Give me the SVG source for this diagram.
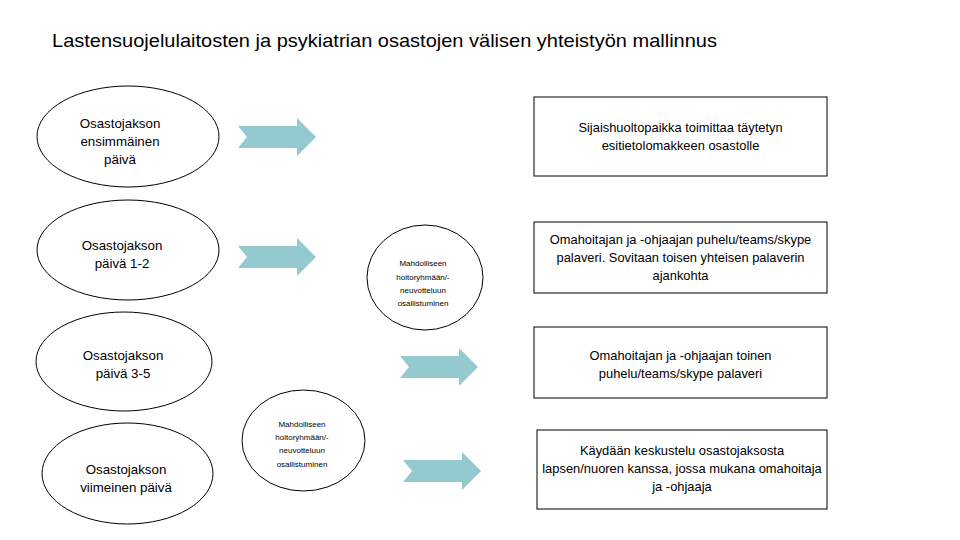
<svg xmlns="http://www.w3.org/2000/svg" xmlns:xlink="http://www.w3.org/1999/xlink" width="960" height="540" viewBox="0 0 960 540">
<style>
.shape{fill:#fff;stroke:#000;stroke-width:1}
.t{font-family:"Liberation Sans",Arial,sans-serif;fill:#000;text-anchor:middle}
.e{font-size:13.3px}
.b{font-size:12.9px}
.s{font-size:8px}
.arrow{fill:#93C9CF}
</style>
<defs>
<path id="arr" d="M0,8 L59,8 L59,0 L78,19 L59,38 L59,30 L0,30 L9,19 Z"/>
</defs>
<rect width="960" height="540" fill="#fff"/>
<text x="52" y="47" font-family="Liberation Sans,Arial,sans-serif" font-size="19" textLength="665" lengthAdjust="spacingAndGlyphs">Lastensuojelulaitosten ja psykiatrian osastojen välisen yhteistyön mallinnus</text>

<g id="connectors" class="arrow">
<use xlink:href="#arr" href="#arr" transform="translate(238,118)"/>
<use xlink:href="#arr" href="#arr" transform="translate(238,238)"/>
<use xlink:href="#arr" href="#arr" transform="translate(400,348)"/>
<use xlink:href="#arr" href="#arr" transform="translate(403,452)"/>
</g>

<g id="e1"><ellipse class="shape" cx="128" cy="136.5" rx="91" ry="50.5"/>
<text class="t e" x="120" y="128">Osastojakson</text><text class="t e" x="120" y="146">ensimmäinen</text><text class="t e" x="120" y="164">päivä</text></g>
<g id="e2"><ellipse class="shape" cx="128" cy="250" rx="91" ry="50"/>
<text class="t e" x="122" y="250">Osastojakson</text><text class="t e" x="122" y="268">päivä 1-2</text></g>
<g id="e3"><ellipse class="shape" cx="124" cy="361.5" rx="88" ry="49.5"/>
<text class="t e" x="123" y="360">Osastojakson</text><text class="t e" x="123" y="378">päivä 3-5</text></g>
<g id="e4"><ellipse class="shape" cx="127.5" cy="473.5" rx="85.5" ry="50.5"/>
<text class="t e" x="126" y="474">Osastojakson</text><text class="t e" x="126" y="492">viimeinen päivä</text></g>

<g id="c1"><ellipse class="shape" cx="425" cy="277.5" rx="58" ry="52.5"/>
<text class="t s" x="423" y="266">Mahdolliseen</text><text class="t s" x="423" y="280">hoitoryhmään/-</text><text class="t s" x="423" y="293">neuvotteluun</text><text class="t s" x="423" y="306">osallistuminen</text></g>
<g id="c2"><ellipse class="shape" cx="303.5" cy="440.5" rx="61.5" ry="50.5"/>
<text class="t s" x="302" y="427">Mahdolliseen</text><text class="t s" x="302" y="440">hoitoryhmään/-</text><text class="t s" x="302" y="453">neuvotteluun</text><text class="t s" x="302" y="467">osallistuminen</text></g>

<g id="b1"><rect class="shape" x="534" y="97" width="293" height="79"/>
<text class="t b" x="680.5" y="132">Sijaishuoltopaikka toimittaa täytetyn</text><text class="t b" x="680.5" y="150">esitietolomakkeen osastolle</text></g>
<g id="b2"><rect class="shape" x="534" y="222" width="293" height="71"/>
<text class="t b" x="680.5" y="244">Omahoitajan ja -ohjaajan puhelu/teams/skype</text><text class="t b" x="680.5" y="262">palaveri. Sovitaan toisen yhteisen palaverin</text><text class="t b" x="680.5" y="280">ajankohta</text></g>
<g id="b3"><rect class="shape" x="534" y="327" width="293" height="71"/>
<text class="t b" x="680.5" y="360">Omahoitajan ja -ohjaajan toinen</text><text class="t b" x="680.5" y="378">puhelu/teams/skype palaveri</text></g>
<g id="b4"><rect class="shape" x="537" y="430" width="290" height="79"/>
<text class="t b" x="682" y="455">Käydään keskustelu osastojaksosta</text><text class="t b" x="682" y="473">lapsen/nuoren kanssa, jossa mukana omahoitaja</text><text class="t b" x="682" y="491">ja -ohjaaja</text></g>
</svg>
